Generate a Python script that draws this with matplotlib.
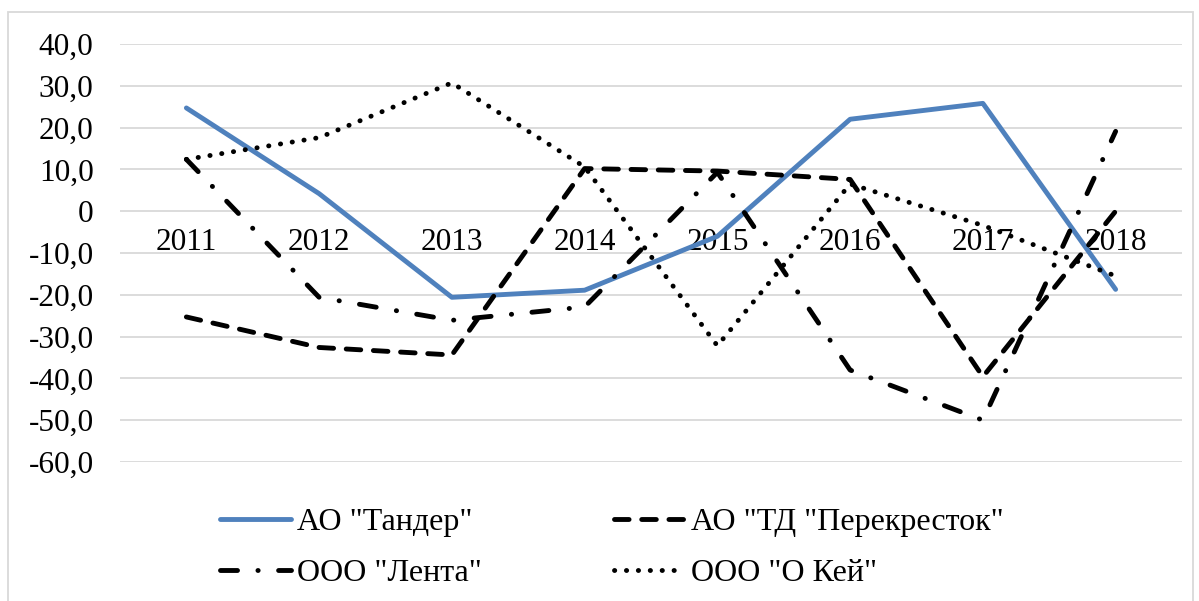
import numpy as np
import matplotlib.pyplot as plt
from matplotlib.ticker import FuncFormatter
from matplotlib.patches import Rectangle

# Datos
anios = ['2011', '2012', '2013', '2014', '2015', '2016', '2017', '2018']
tander = [24.7, 4.2, -20.6, -18.9, -6.0, 22.0, 25.8, -18.7]
perekrestok = [-25.3, -32.6, -34.4, 10.2, 9.6, 7.6, -39.6, 0.0]
lenta = [12.4, -20.6, -26.1, -22.9, 9.3, -38.0, -50.0, 19.1]
okey = [12.4, 17.6, 30.7, 10.6, -32.2, 6.5, -3.4, -15.5]

nombres = ['АО "Тандер"', 'АО "ТД "Перекресток"', 'ООО "Лента"', 'ООО "О Кей"']

plt.rcParams['font.family'] = ['Liberation Serif', 'DejaVu Serif']

fig = plt.figure(figsize=(11.99, 6.01), dpi=100)
ax = fig.add_axes([120/1199, 1 - 462/601, 1062/1199, 418/601])

x = np.arange(len(anios))
lw = 3.5

l1, = ax.plot(x, tander, color='#4F81BD', lw=lw, solid_capstyle='round',
              solid_joinstyle='round', label=nombres[0], zorder=3)
l2, = ax.plot(x, perekrestok, color='black', lw=lw, label=nombres[1], zorder=4,
              dash_capstyle='round', dash_joinstyle='round')
l2.set_dashes((3.0, 2.6))
l3, = ax.plot(x, lenta, color='black', lw=lw, label=nombres[2], zorder=5,
              dash_capstyle='round', dash_joinstyle='round')
l3.set_dashes((3.5, 4.2, 0.05, 4.2))
l4, = ax.plot(x, okey, color='black', lw=lw, label=nombres[3], zorder=6,
              dash_capstyle='round', dash_joinstyle='round')
l4.set_dashes((0.05, 2.4))

ax.set_xlim(-0.5, 7.5)
ax.set_ylim(-60, 40)
ax.set_yticks(np.arange(-60, 41, 10))
ax.yaxis.set_major_formatter(FuncFormatter(
    lambda v, p: '0' if abs(v) < 1e-9 else f'{v:.1f}'.replace('.', ',')))
ax.set_xticks(x)
ax.set_xticklabels(anios)

ax.grid(axis='y', color='#D9D9D9', lw=1.3, zorder=0)
for s in ['top', 'right', 'left']:
    ax.spines[s].set_visible(False)
ax.spines['bottom'].set_position(('data', 0))
ax.spines['bottom'].set_visible(False)
ax.tick_params(axis='x', length=0, pad=12, labelsize=22.5)
ax.tick_params(axis='y', length=0, pad=19, labelsize=22.5)

# borde del área del gráfico
fig.patches.append(Rectangle((8/1199, -0.01), 1185/1199, 1 - 12/601 + 0.01,
                             transform=fig.transFigure, fill=False,
                             edgecolor='#D9D9D9', lw=1.3))

# orden por filas como en la leyenda original
fig.legend([l1, l3, l2, l4], [nombres[0], nombres[2], nombres[1], nombres[3]],
           loc='center', bbox_to_anchor=(612/1199, 1 - 548/601), ncol=2,
           frameon=False, fontsize=23, handlelength=2.2, handletextpad=0.2,
           columnspacing=4.15, labelspacing=0.68)

fig.savefig('out.png', dpi=100)
